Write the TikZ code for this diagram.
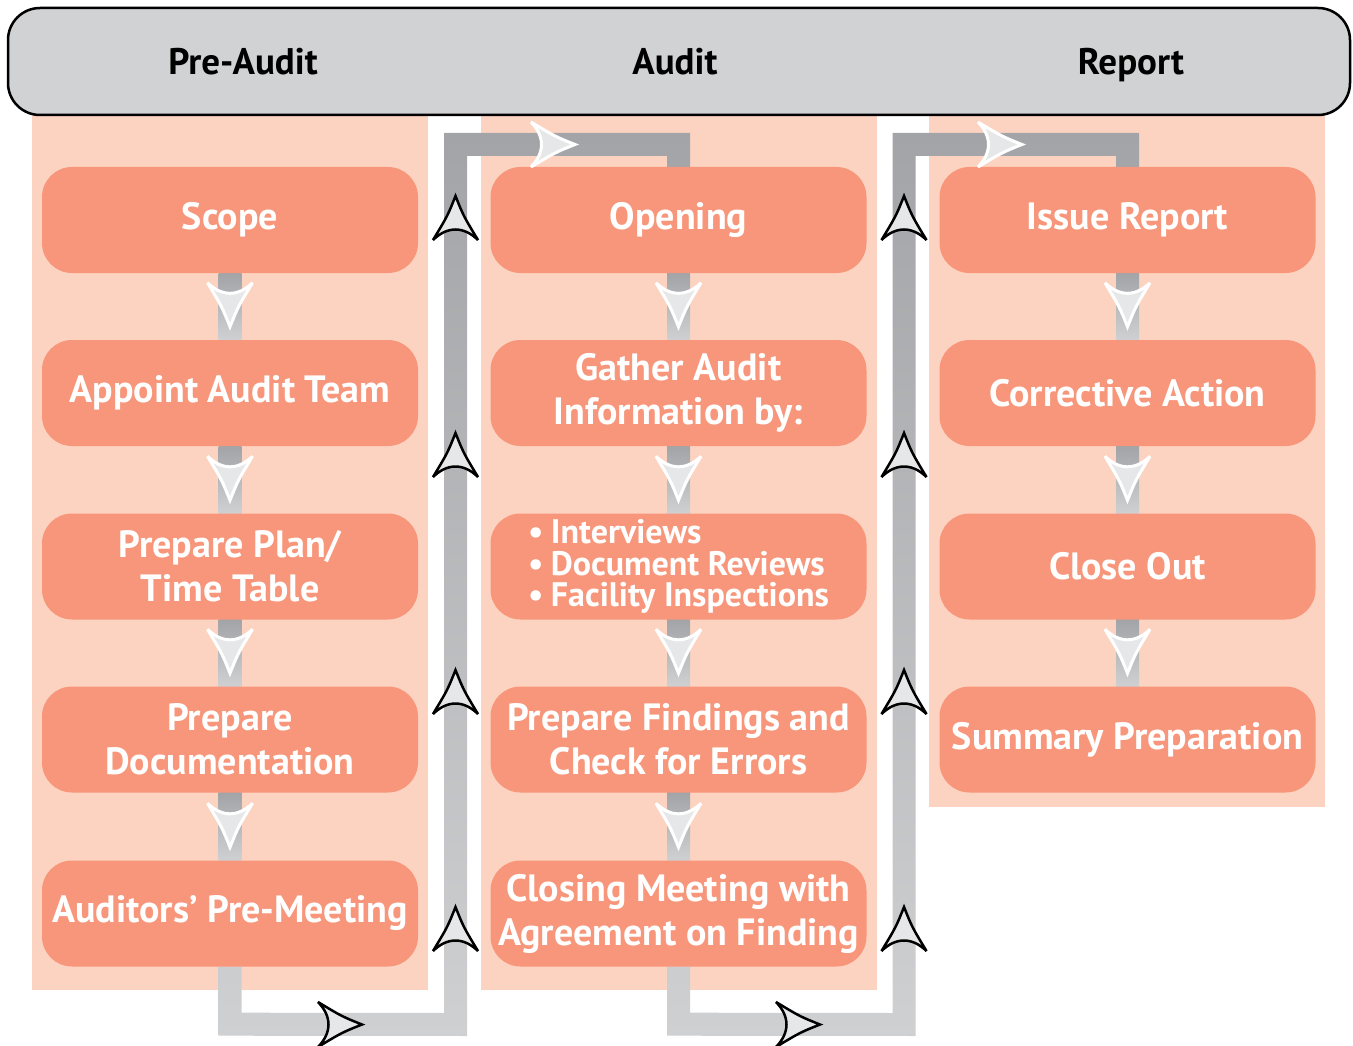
\documentclass[tikz,border=0pt]{standalone}
\usepackage{fontspec}
\setmainfont{PT Sans}
\usetikzlibrary{calc}
\definecolor{hdrgray}{HTML}{D1D2D4}
\definecolor{peach}{HTML}{FCD3C1}
\definecolor{salmon}{HTML}{F7967A}
\definecolor{arrfill}{HTML}{E6E7E8}
\definecolor{barDark}{HTML}{A2A4A7}
\definecolor{barMid}{HTML}{E2E3E4}
\definecolor{barLight}{HTML}{CFD0D2}
\pgfdeclarelayer{bg}\pgfdeclarelayer{mid}\pgfsetlayers{bg,mid,main}
\tikzset{
  stepbox/.style={fill=salmon, rounded corners=30pt, minimum width=376pt, minimum height=106pt,
    text=white, font=\bfseries\fontsize{38}{44}\selectfont, align=center, inner sep=0pt},
  hdrbox/.style={draw=black, line width=2.5pt, fill=hdrgray, rounded corners=32pt,
    minimum width=1342pt, minimum height=107pt},
  hdrtext/.style={font=\bfseries\fontsize{37}{40}\selectfont, text=black, anchor=base},
  barsh/.style={top color=barDark, bottom color=barLight},
  lanesh/.style={top color=barDark, middle color=barMid, bottom color=barLight},
  darr/.style={draw=black, fill=arrfill, line width=2.5pt, miter limit=4},
  warr/.style={draw=white, fill=arrfill, line width=3pt, miter limit=4},
  chev/.pic={\path[pic actions] (0,0) .. controls (-20,-8) .. (-44,-22.5)
      .. controls (-30,-8) and (-30,8) .. (-44,22.5) .. controls (-20,8) .. (0,0) -- cycle;}
}
\begin{document}
\begin{tikzpicture}[x=1pt,y=-1pt]
\useasboundingbox (0,0) rectangle (1353,1046);
% column backgrounds
\begin{pgfonlayer}{bg}
\fill[peach] (32,115) rectangle (428,990);
\fill[peach] (481,115) rectangle (877,990);
\fill[peach] (929,115) rectangle (1325,807);
\end{pgfonlayer}
% header
\node[hdrbox] (hdr) at (679,61.5) {};
\node[hdrtext] (h1) at (243,75) {Pre-Audit};
\node[hdrtext] (h2) at (675,75) {Audit};
\node[hdrtext] (h3) at (1131,75) {Report};
% column 1
\node[stepbox] (p1) at (230,220) {Scope};
\node[stepbox] (p2) at (230,393) {Appoint Audit Team};
\node[stepbox] (p3) at (230,566.5) {Prepare Plan/\\Time Table};
\node[stepbox] (p4) at (230,739.5) {Prepare\\Documentation};
\node[stepbox] (p5) at (230,913.5) {Auditors’ Pre-Meeting};
% column 2
\node[stepbox] (a1) at (678.5,220) {Opening};
\node[stepbox] (a2) at (678.5,393) {Gather Audit\\Information by:};
\node[stepbox, align=left, font=\bfseries\fontsize{34}{31.5}\selectfont] (a3) at (678.5,566.5)
  {•\hspace{0.22em}Interviews\\•\hspace{0.22em}Document Reviews\\•\hspace{0.22em}Facility Inspections};
\node[stepbox] (a4) at (678.5,739.5) {Prepare Findings and\\Check for Errors};
\node[stepbox] (a5) at (678.5,913.5) {Closing Meeting with\\Agreement on Finding};
% column 3
\node[stepbox] (r1) at (1127.5,220) {Issue Report};
\node[stepbox] (r2) at (1127.5,393) {Corrective Action};
\node[stepbox] (r3) at (1127.5,566.5) {Close Out};
\node[stepbox] (r4) at (1127.5,739.5) {Summary Preparation};
% bars between boxes
\begin{pgfonlayer}{mid}
\foreach \s/\t in {p1/p2,p2/p3,p3/p4,p4/p5,a1/a2,a2/a3,a3/a4,a4/a5,r1/r2,r2/r3,r3/r4}{
  \shade[barsh] ($(\s.south)+(-11.5,0)$) rectangle ($(\t.north)+(11.5,0)$);
}
% lane connectors
\coordinate (k1) at ($(p5.south)+(0,57.5)$);
\coordinate (k2) at (455.5,1024.5);
\coordinate (k3) at (455.5,144.5);
\coordinate (k4) at (a1.north |- k3);
\shade[lanesh] ($(p5.south)+(-11.5,0)$) -- ($(k1)+(-11.5,11.5)$) -- ($(k2)+(11.5,11.5)$)
  -- ($(k3)+(11.5,11.5)$) -- ($(k4)+(-11.5,11.5)$) -- ($(a1.north)+(-11.5,0)$)
  -- ($(a1.north)+(11.5,0)$) -- ($(k4)+(11.5,-11.5)$) -- ($(k3)+(-11.5,-11.5)$)
  -- ($(k2)+(-11.5,-11.5)$) -- ($(k1)+(11.5,-11.5)$) -- ($(p5.south)+(11.5,0)$) -- cycle;
\coordinate (m1) at ($(a5.south)+(0,57.5)$);
\coordinate (m2) at (904,1024.5);
\coordinate (m3) at (904,144.5);
\coordinate (m4) at (r1.north |- m3);
\shade[lanesh] ($(a5.south)+(-11.5,0)$) -- ($(m1)+(-11.5,11.5)$) -- ($(m2)+(11.5,11.5)$)
  -- ($(m3)+(11.5,11.5)$) -- ($(m4)+(-11.5,11.5)$) -- ($(r1.north)+(-11.5,0)$)
  -- ($(r1.north)+(11.5,0)$) -- ($(m4)+(11.5,-11.5)$) -- ($(m3)+(-11.5,-11.5)$)
  -- ($(m2)+(-11.5,-11.5)$) -- ($(m1)+(11.5,-11.5)$) -- ($(a5.south)+(11.5,0)$) -- cycle;
\end{pgfonlayer}
% arrows between boxes
\foreach \t in {p2,p3,p4,p5,a2,a3,a4,a5,r2,r3,r4}{
  \pic[warr, rotate=-90] at ($(\t.north)+(0,-13)$) {chev};
}
% lane arrows
\foreach \y in {196,433,670,907}{
  \pic[darr, rotate=90] at (455.5,\y) {chev};
  \pic[darr, rotate=90] at (904,\y) {chev};
}
\pic[darr] at (362,1024.5) {chev};
\pic[darr] at (820,1024.5) {chev};
\pic[warr] at (575,144.5) {chev};
\pic[warr] at (1022,144.5) {chev};
\end{tikzpicture}
\end{document}
